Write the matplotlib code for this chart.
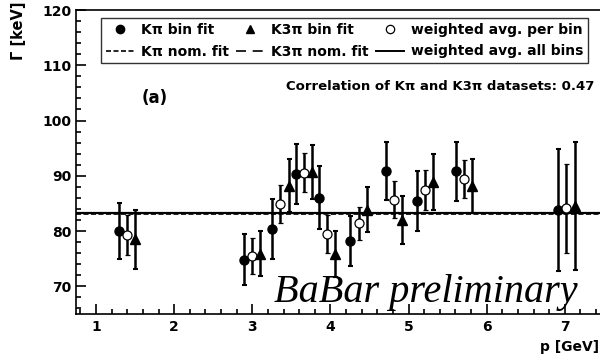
import matplotlib
matplotlib.use("Agg")
import matplotlib.pyplot as plt
from matplotlib.lines import Line2D
from matplotlib.ticker import MultipleLocator

plt.rcParams["font.family"] = ["DejaVu Sans"]
plt.rcParams["font.weight"] = "bold"

# bin centres in p [GeV]
bin_p = [1.40, 3.00, 3.36, 3.66, 3.96, 4.36, 4.81, 5.21, 5.71, 7.02]
offset = 0.105

# K pi bin fit
kpi_val = [80.0, 74.8, 80.4, 90.3, 86.0, 78.2, 90.9, 85.5, 90.8, 83.8]
kpi_err = [5.0, 4.6, 5.4, 5.4, 5.7, 4.5, 5.3, 5.4, 5.4, 11.1]

# K3pi bin fit
k3pi_val = [78.5, 75.9, 88.2, 90.7, 75.9, 83.9, 82.0, 88.9, 88.1, 84.5]
k3pi_err = [5.3, 4.1, 4.8, 4.9, 4.2, 4.0, 4.4, 5.0, 4.9, 11.6]

# weighted average per bin
wavg_val = [79.3, 75.5, 84.9, 90.6, 79.5, 81.4, 85.7, 87.4, 89.4, 84.1]
wavg_err = [3.7, 3.2, 3.5, 3.5, 3.5, 3.0, 3.4, 3.6, 3.5, 8.0]

# horizontal fit results
kpi_nom = 83.15
k3pi_nom = 83.2
wavg_all = 83.35
correlation = 0.47

fig = plt.figure(figsize=(6.0, 3.57), dpi=100)
ax = fig.add_axes([76 / 600, 43 / 357, 1 - 76 / 600, 304 / 357])

ax.axhline(kpi_nom, color="black", lw=1.2, ls=(0, (3, 1.5)))
ax.axhline(k3pi_nom, color="black", lw=1.2, ls=(0, (6, 4)))
ax.axhline(wavg_all, color="black", lw=1.6, ls="-")

eb = dict(ecolor="black", elinewidth=1.8, capsize=1.8, capthick=1.5, ls="none")
ax.errorbar([p - offset for p in bin_p], kpi_val, yerr=kpi_err, fmt="o",
            mfc="black", mec="black", ms=6.5, **eb)
ax.errorbar(bin_p, wavg_val, yerr=wavg_err, fmt="o",
            mfc="white", mec="black", mew=0.9, ms=6.5, **eb)
ax.errorbar([p + offset for p in bin_p], k3pi_val, yerr=k3pi_err, fmt="^",
            mfc="black", mec="black", ms=6.5, **eb)

ax.set_xlim(0.744, 7.45)
ax.set_ylim(65, 120)
ax.xaxis.set_major_locator(MultipleLocator(1))
ax.xaxis.set_minor_locator(MultipleLocator(0.2))
ax.yaxis.set_major_locator(MultipleLocator(10))
ax.yaxis.set_minor_locator(MultipleLocator(2))
ax.tick_params(which="both", direction="in", top=False, right=False,
               labelsize=10, width=1.2)
ax.tick_params(which="major", length=7)
ax.tick_params(which="minor", length=3.5)
ax.tick_params(axis="y", pad=3)
ax.tick_params(axis="x", pad=4)
ax.spines["right"].set_visible(False)
for s in ["left", "bottom", "top"]:
    ax.spines[s].set_linewidth(1.2)

handles = [
    Line2D([], [], ls="none", marker="o", color="black", ms=6),
    Line2D([], [], ls=(0, (3, 1.5)), color="black", lw=1.2),
    Line2D([], [], ls="none", marker="^", color="black", ms=6),
    Line2D([], [], ls=(0, (6, 4)), color="black", lw=1.2),
    Line2D([], [], ls="none", marker="o", mfc="white", mec="black", ms=6, mew=0.9),
    Line2D([], [], ls="-", color="black", lw=1.4),
]
labels = ["K\u03c0 bin fit", "K\u03c0 nom. fit", "K3\u03c0 bin fit",
          "K3\u03c0 nom. fit", "weighted avg. per bin", "weighted avg. all bins"]
leg = ax.legend(handles, labels, ncol=3, loc="upper left", mode="expand",
                bbox_to_anchor=(101 / 600, 1 - 65 / 357, 487 / 600, 47 / 357),
                bbox_transform=fig.transFigure, fontsize=10, frameon=True,
                fancybox=False, edgecolor="black", handlelength=2.0,
                handletextpad=0.5, borderpad=0.35, labelspacing=0.55,
                columnspacing=0.5, borderaxespad=0)
leg.get_frame().set_linewidth(1.0)

fig.text(155 / 600, 1 - 98 / 357, "(a)", fontsize=12, fontweight="bold",
         ha="center", va="center")
fig.text(594 / 600, 1 - 87 / 357,
         f"Correlation of K\u03c0 and K3\u03c0 datasets: {correlation}",
         fontsize=9.5, fontweight="bold", ha="right", va="center")
fig.text(578 / 600, 1 - 302 / 357, "BaBar preliminary",
         family=["Liberation Serif", "DejaVu Serif"], style="italic",
         fontweight="normal", fontsize=29, ha="right", va="baseline")

fig.text(18 / 600, 1 - 2 / 357, "\u0393 [keV]", rotation=90, fontsize=10.5,
         fontweight="bold", ha="center", va="top")
fig.text(599 / 600, 1 - 347 / 357, "p [GeV]", fontsize=10,
         fontweight="bold", ha="right", va="center")

fig.savefig("out.png", dpi=100)
